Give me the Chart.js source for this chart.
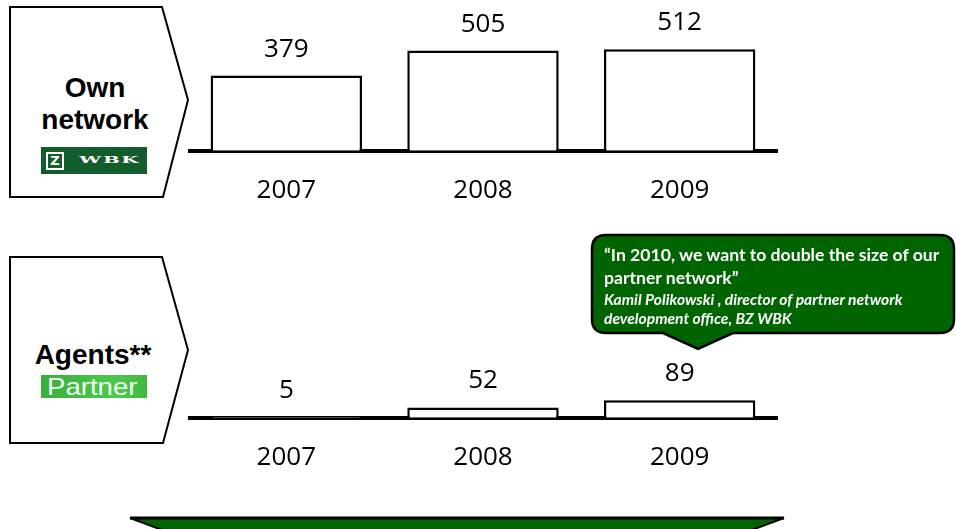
<!DOCTYPE html>
<html>
<head>
<meta charset="utf-8">
<script src="https://cdn.jsdelivr.net/npm/chart.js@4"></script>
<style>
  body{margin:0;width:956px;height:529px;position:relative;overflow:hidden;background:#fff;font-family:"Liberation Sans",Arial,sans-serif;}
  svg.shapes{position:absolute;left:0;top:0;}
  canvas{position:absolute;}
  #ownChart{left:188px;top:0;}
  #agentChart{left:188px;top:267px;}
  .tag{position:absolute;width:178px;text-align:center;font-weight:bold;font-size:28px;line-height:32px;color:#000;}
  .wbk{position:absolute;left:41px;top:147px;width:106px;height:27px;background:#135c2b;overflow:hidden;}
  .wbk .z{position:absolute;left:5px;top:5px;width:14px;height:14px;border:2px solid #fff;color:#fff;font:bold 13px/14px "DejaVu Sans",sans-serif;text-align:center;}
  .wbk .txt{position:absolute;left:38px;top:6px;color:#fff;font:900 12px/14px "DejaVu Serif",serif;letter-spacing:1px;transform:scaleX(1.65) scaleY(0.75);transform-origin:left center;}
  .partner{position:absolute;left:41px;top:375px;width:106px;height:23px;overflow:hidden;background:linear-gradient(90deg,#3aae3c,#4cc94c 70%,#3fb840);}
  .partner span{position:absolute;left:6px;top:0;color:#f2fff2;font-size:24px;line-height:23px;white-space:nowrap;transform:scaleX(1.15);transform-origin:left center;}
  .quote{position:absolute;left:604px;top:243px;color:#fff;font-family:Lato,"Open Sans",sans-serif;white-space:nowrap;}
  .quote .q{font-weight:bold;font-size:17.6px;line-height:23px;}
  .quote .a{font-weight:bold;font-style:italic;font-size:15.6px;line-height:19px;margin-top:1px;}
  .overlay{position:absolute;left:0;top:0;}
</style>
</head>
<body>
<svg class="shapes" width="956" height="529">
  <polygon points="10,7 162,7 188,100 163,197 10,197" fill="#fff" stroke="#000" stroke-width="2"/>
  <polygon points="10,257 162,257 188,350 163,443 10,443" fill="#fff" stroke="#000" stroke-width="2"/>
  <polygon points="130,518 784,518 457,640" fill="#006400" stroke="#000" stroke-width="2"/>
  <line x1="130" y1="518" x2="784" y2="518" stroke="#000" stroke-width="3"/>
</svg>

<div class="tag" style="left:6px;top:72px;">Own<br>network</div>
<div class="wbk"><div class="z">Z</div><div class="txt">WBK</div></div>
<div class="tag" style="left:4px;top:339px;">Agents**</div>
<div class="partner"><span>Partner</span></div>

<canvas id="ownChart" width="590" height="230"></canvas>
<canvas id="agentChart" width="590" height="230"></canvas>

<svg class="overlay" width="956" height="529">
  <path d="M606,235 H940 Q954,235 954,249 V319 Q954,333 940,333 H733 L698,349 L663,333 H606 Q592,333 592,319 V249 Q592,235 606,235 Z" fill="#006400" stroke="#000" stroke-width="2.5"/>
</svg>
<div class="quote">
  <div class="q">“In 2010, we want to double the size of our<br>partner network”</div>
  <div class="a">Kamil Polikowski , director of partner network<br>development office, BZ WBK</div>
</div>

<script>
const years = ['2007', '2008', '2009'];
const ownNetwork = [379, 505, 512];
const agents = [5, 52, 89];
// both panels share one value scale so bar heights compare directly
const yMax = 760;

// number above each bar
const valueLabels = {
  id: 'valueLabels',
  afterDatasetsDraw(chart){
    const ctx = chart.ctx;
    const values = chart.data.datasets[0].data;
    ctx.save();
    ctx.font = '26px "Open Sans"';
    ctx.fillStyle = '#000';
    ctx.textAlign = 'center';
    ctx.textBaseline = 'alphabetic';
    chart.getDatasetMeta(0).data.forEach((bar, i) => {
      ctx.fillText(values[i], bar.x, bar.y - 19);
    });
    ctx.restore();
  }
};

function makeChart(id, values){
  return new Chart(document.getElementById(id), {
    type: 'bar',
    data: {
      labels: years,
      datasets: [{
        data: values,
        backgroundColor: '#fff',
        borderColor: '#000',
        borderWidth: 2.5,
        borderSkipped: 'bottom',
        barPercentage: 0.77,
        categoryPercentage: 1
      }]
    },
    options: {
      responsive: false,
      animation: false,
      layout: {padding: 0},
      plugins: {legend: {display: false}, tooltip: {enabled: false}},
      scales: {
        x: {
          grid: {display: false, drawTicks: false},
          border: {display: true, color: '#000', width: 4},
          ticks: {color: '#000', padding: 24, font: {family: 'Open Sans', size: 26}}
        },
        y: {display: false, min: 0, max: yMax}
      }
    },
    plugins: [valueLabels]
  });
}

makeChart('ownChart', ownNetwork);
makeChart('agentChart', agents);
</script>
</body>
</html>
